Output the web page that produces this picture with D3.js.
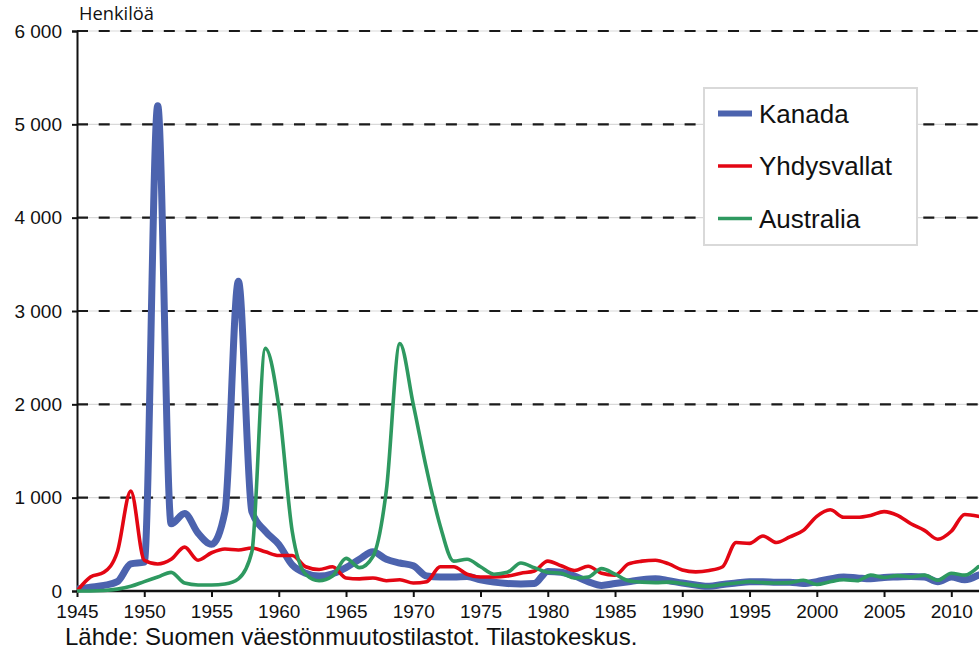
<!DOCTYPE html>
<html>
<head>
<meta charset="utf-8">
<script src="https://cdn.jsdelivr.net/npm/d3@7"></script>
<style>
  html, body { margin: 0; padding: 0; background: #fff; }
  svg { display: block; }
</style>
</head>
<body>
<svg id="chart" width="979" height="670"></svg>
<script>
// ---- Data ----
const years = d3.range(1945, 2013); // 1945 ... 2012

const kanada = [
  20, 40, 60, 100, 290, 310, 5200, 720, 830, 620,          // 1945-1954
  500, 850, 3320, 850, 640, 500, 280, 190, 160, 185,       // 1955-1964
  250, 340, 420, 340, 300, 270, 160, 150, 150, 155,        // 1965-1974
  120, 95, 80, 75, 80, 210, 200, 160, 100, 60,             // 1975-1984
  80, 100, 120, 130, 110, 85, 65, 50, 70, 85,              // 1985-1994
  100, 100, 95, 95, 80, 100, 130, 150, 140, 130,           // 1995-2004
  145, 150, 155, 150, 100, 150, 120, 170                   // 2005-2012
];

const yhdysvallat = [
  0, 150, 200, 420, 1070, 330, 290, 340, 470, 330,         // 1945-1954
  410, 450, 440, 460, 420, 380, 380, 260, 230, 260,        // 1955-1964
  140, 130, 140, 110, 120, 85, 100, 260, 260, 180,         // 1965-1974
  150, 150, 160, 190, 215, 320, 270, 220, 265, 190,        // 1975-1984
  170, 290, 320, 330, 290, 225, 205, 220, 260, 520,        // 1985-1994
  510, 590, 520, 580, 650, 800, 870, 790, 790, 810,        // 1995-2004
  850, 810, 720, 650, 555, 640, 820, 800                   // 2005-2012
];

const australia = [
  0, 0, 5, 20, 50, 100, 150, 200, 85, 65,                  // 1945-1954
  65, 75, 130, 420, 2600, 1980, 640, 180, 110, 160,        // 1955-1964
  350, 250, 370, 1080, 2650, 2000, 1300, 700, 320, 340,    // 1965-1974
  260, 180, 200, 300, 250, 200, 190, 140, 150, 240,        // 1975-1984
  180, 110, 95, 90, 95, 80, 60, 50, 70, 85,                // 1985-1994
  100, 90, 85, 90, 115, 70, 100, 120, 110, 170,            // 1995-2004
  145, 165, 150, 170, 115, 190, 170, 260                   // 2005-2012
];

const seriesNames = ["Kanada", "Yhdysvallat", "Australia"];
const yTicks = [0, 1000, 2000, 3000, 4000, 5000, 6000];
const yTickLabels = ["0", "1 000", "2 000", "3 000", "4 000", "5 000", "6 000"];
const xTicks = [1945, 1950, 1955, 1960, 1965, 1970, 1975, 1980, 1985, 1990, 1995, 2000, 2005, 2010];
const yAxisTitle = "Henkilöä";
const sourceText = "Lähde: Suomen väestönmuutostilastot. Tilastokeskus.";

// ---- Styles ----
const colors = { "Kanada": "#4c63ae", "Yhdysvallat": "#e30613", "Australia": "#2e9960" };
const widths = { "Kanada": 7, "Yhdysvallat": 3.6, "Australia": 3.6 };
const legendWidths = { "Kanada": 6, "Yhdysvallat": 3.6, "Australia": 3.6 };
const FONT = "'Liberation Sans', Arial, sans-serif";

const svg = d3.select("#chart");
const mLeft = 77, mRight = 978.2, mTop = 31, mBottom = 591;

const x = d3.scaleLinear().domain([1945, 2012]).range([mLeft, mRight]);
const y = d3.scaleLinear().domain([0, 6000]).range([mBottom, mTop]);

// gridlines
const grid = svg.append("g");
yTicks.filter(d => d > 0).forEach(t => {
  grid.append("line")
    .attr("x1", mLeft).attr("x2", 979)
    .attr("y1", y(t)).attr("y2", y(t))
    .attr("stroke", "#d9d9d9").attr("stroke-width", 1.2);
  grid.append("line")
    .attr("x1", mLeft).attr("x2", 979)
    .attr("y1", y(t)).attr("y2", y(t))
    .attr("stroke", "#1a1a1a").attr("stroke-width", 2.2)
    .attr("stroke-dasharray", "11,10.7");
});

// y axis
const yAxis = d3.axisLeft(y).tickValues(yTicks)
  .tickFormat((d, i) => yTickLabels[i]).tickSize(5).tickPadding(10);
const yg = svg.append("g").attr("transform", `translate(${mLeft},0)`).call(yAxis);
yg.select(".domain").attr("stroke", "#111").attr("stroke-width", 2);
yg.selectAll(".tick line").attr("stroke", "#111").attr("stroke-width", 2);
yg.selectAll(".tick text").attr("font-family", FONT).attr("font-size", 19).attr("fill", "#111");

// x axis
const xAxis = d3.axisBottom(x).tickValues(xTicks).tickFormat(d3.format("d"))
  .tickSize(6).tickPadding(8);
const xg = svg.append("g").attr("transform", `translate(0,${mBottom})`).call(xAxis);
xg.select(".domain").attr("stroke", "#111").attr("stroke-width", 2.5)
  .attr("d", `M${mLeft},0H979`);
xg.selectAll(".tick line").attr("stroke", "#111").attr("stroke-width", 2);
xg.selectAll(".tick text").attr("font-family", FONT).attr("font-size", 19).attr("fill", "#111");

// lines
const dataMap = { "Kanada": kanada, "Yhdysvallat": yhdysvallat, "Australia": australia };
const line = d3.line()
  .x((d, i) => x(years[i]))
  .y(d => y(d))
  .curve(d3.curveMonotoneX);

svg.append("defs").append("clipPath").attr("id", "clip")
  .append("rect").attr("x", mLeft).attr("y", 0).attr("width", 979 - mLeft).attr("height", mBottom + 3);

const lines = svg.append("g").attr("clip-path", "url(#clip)");
seriesNames.forEach(name => {
  lines.append("path")
    .datum(dataMap[name])
    .attr("d", line)
    .attr("fill", "none")
    .attr("stroke", colors[name])
    .attr("stroke-width", widths[name])
    .attr("stroke-linejoin", "round")
    .attr("stroke-linecap", "round");
});

// axis title
svg.append("text")
  .attr("x", 79).attr("y", 20)
  .attr("font-family", "'Open Sans', sans-serif").attr("font-size", 18.3).attr("fill", "#111")
  .text(yAxisTitle);

// legend
const lg = svg.append("g");
lg.append("rect")
  .attr("x", 704).attr("y", 88).attr("width", 213).attr("height", 157)
  .attr("fill", "#fff").attr("stroke", "#d9d9d9").attr("stroke-width", 2);
seriesNames.forEach((name, i) => {
  const cy = 113.5 + i * 52.5;
  lg.append("line")
    .attr("x1", 718).attr("x2", 752).attr("y1", cy).attr("y2", cy)
    .attr("stroke", colors[name]).attr("stroke-width", legendWidths[name]);
  lg.append("text")
    .attr("x", 759).attr("y", cy).attr("dy", "0.35em")
    .attr("font-family", FONT).attr("font-size", 26).attr("fill", "#111")
    .text(name);
});

// source
svg.append("text")
  .attr("x", 65).attr("y", 645)
  .attr("font-family", FONT).attr("font-size", 24).attr("fill", "#111")
  .text(sourceText);
</script>
</body>
</html>
